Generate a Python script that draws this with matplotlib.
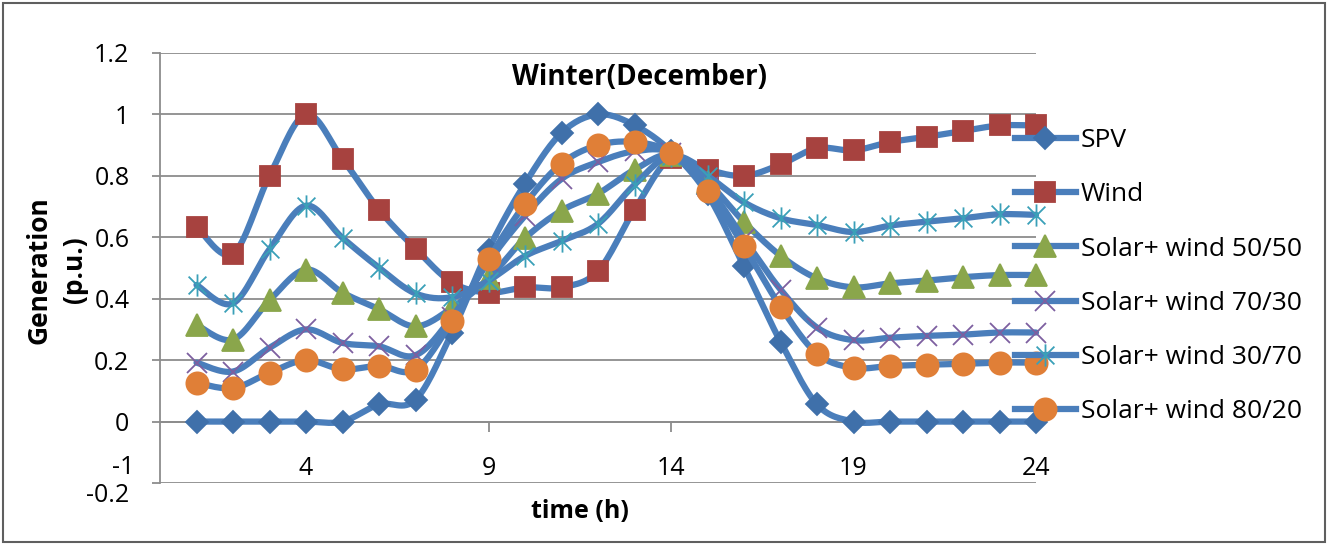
import numpy as np
import matplotlib
matplotlib.use("Agg")
import matplotlib.pyplot as plt
import matplotlib.transforms as mtransforms
from matplotlib.path import Path
from matplotlib.patches import Rectangle

plt.rcParams['font.family'] = ['Open Sans', 'DejaVu Sans']

# hourly generation, winter (December), per unit
hours = list(range(1, 25))
spv = [0, 0, 0, 0, 0, 0.056, 0.071, 0.29, 0.56, 0.775, 0.94, 1.0,
       0.965, 0.88, 0.74, 0.505, 0.26, 0.056, 0, 0, 0, 0, 0, 0]
wind = [0.635, 0.546, 0.80, 1.0, 0.855, 0.69, 0.563, 0.453, 0.42, 0.437, 0.437, 0.49,
        0.69, 0.858, 0.82, 0.80, 0.837, 0.89, 0.883, 0.91, 0.927, 0.946, 0.964, 0.964]
mix_50_50 = [0.315, 0.267, 0.395, 0.495, 0.42, 0.366, 0.31, 0.37, 0.466, 0.597, 0.687, 0.742,
             0.82, 0.868, 0.78, 0.65, 0.54, 0.466, 0.437, 0.45, 0.459, 0.47, 0.477, 0.477]
mix_70_30 = [0.192, 0.163, 0.24, 0.30, 0.256, 0.245, 0.216, 0.34, 0.52, 0.67, 0.79, 0.845,
             0.88, 0.875, 0.765, 0.595, 0.43, 0.306, 0.265, 0.273, 0.279, 0.283, 0.29, 0.29]
mix_30_70 = [0.445, 0.385, 0.561, 0.703, 0.598, 0.501, 0.417, 0.405, 0.459, 0.539, 0.588, 0.644,
             0.771, 0.865, 0.80, 0.714, 0.662, 0.64, 0.617, 0.638, 0.651, 0.662, 0.675, 0.673]
mix_80_20 = [0.126, 0.109, 0.159, 0.20, 0.17, 0.181, 0.169, 0.327, 0.529, 0.708, 0.84, 0.90,
             0.91, 0.875, 0.752, 0.57, 0.374, 0.221, 0.175, 0.181, 0.185, 0.188, 0.192, 0.192]

labels = ['SPV', 'Wind', 'Solar+ wind 50/50', 'Solar+ wind 70/30',
          'Solar+ wind 30/70', 'Solar+ wind 80/20']
x_ticks = [4, 9, 14, 19, 24]
y_ticks = [-0.2, 0, 0.2, 0.4, 0.6, 0.8, 1.0, 1.2]

LINE_BLUE = '#4A7EBB'
GRID_GRAY = '#8C8C8C'
FS = 18

# excel style asterisk: an x with a vertical bar through it
asterisk = Path([(-1, -1), (1, 1), (-1, 1), (1, -1), (0, -1.25), (0, 1.25)],
                [Path.MOVETO, Path.LINETO] * 3)

styles = [
    dict(marker='D', color='#3F70AA', ms=11, filled=True),
    dict(marker='s', color='#A7423F', ms=15, filled=True),
    dict(marker='^', color='#8AA64B', ms=16, filled=True),
    dict(marker='x', color='#7D5FA0', ms=15, filled=False),
    dict(marker=asterisk, color='#3AA0B8', ms=16, filled=False),
    dict(marker='o', color='#E07F37', ms=16, filled=True),
]


def smooth(x, y, steps=16):
    """Catmull-Rom curve through the points, like Excel's smoothed line."""
    pts = np.column_stack([x, y]).astype(float)
    pad = np.vstack([pts[0], pts, pts[-1]])
    t = np.linspace(0, 1, steps, endpoint=False)[:, None]
    out = []
    for i in range(len(pts) - 1):
        p0, p1, p2, p3 = pad[i], pad[i + 1], pad[i + 2], pad[i + 3]
        seg = 0.5 * (2 * p1 + (p2 - p0) * t
                     + (2 * p0 - 5 * p1 + 4 * p2 - p3) * t ** 2
                     + (3 * p1 - p0 - 3 * p2 + p3) * t ** 3)
        out.append(seg)
    out.append(pts[-1:])
    out = np.vstack(out)
    return out[:, 0], out[:, 1]


W, H = 1327, 544
fig = plt.figure(figsize=(W / 100, H / 100), dpi=100)
ax = fig.add_axes([160 / W, 1 - 483 / H, (1036 - 160) / W, (483 - 53) / H])

series = [spv, wind, mix_50_50, mix_70_30, mix_30_70, mix_80_20]
handles = []
for i, (vals, st) in enumerate(zip(series, styles)):
    sx, sy = smooth(hours, vals)
    ax.plot(sx, sy, color=LINE_BLUE, lw=4.5, solid_capstyle='round',
            zorder=3 + i * 0.1, clip_on=False)
    face = st['color'] if st['filled'] else 'none'
    ax.plot(hours, vals, ls='none', marker=st['marker'], ms=st['ms'],
            mfc=face, mec=st['color'], mew=1.3, zorder=3.05 + i * 0.1, clip_on=False)
    h, = ax.plot([], [], color=LINE_BLUE, lw=4.5, marker=st['marker'], ms=st['ms'],
                 mfc=face, mec=st['color'], mew=1.3)
    handles.append(h)

ax.set_xlim(0, 24)
ax.set_ylim(-0.2, 1.2)
ax.set_yticks(y_ticks)
ax.set_yticklabels(['%g' % v for v in y_ticks])
ax.set_xticks(x_ticks)
ax.set_xticklabels([str(v) for v in x_ticks])

ax.grid(axis='y', color=GRID_GRAY, lw=1.3)
ax.set_axisbelow(True)
for side in ['top', 'right']:
    ax.spines[side].set_visible(False)
ax.spines['bottom'].set_position(('data', 0))
for side in ['left', 'bottom']:
    ax.spines[side].set_color(GRID_GRAY)
    ax.spines[side].set_linewidth(1.3)

ax.tick_params(axis='y', direction='out', length=6, width=1.3, color=GRID_GRAY,
               labelsize=FS, pad=16)
ax.tick_params(axis='x', direction='out', length=7, width=1.3, color=GRID_GRAY,
               labelsize=FS, pad=18)

# excel drops the -0.2 label a little and also prints a stray "-1" category label
lbl = ax.get_yticklabels()[0]
lbl.set_transform(lbl.get_transform() + mtransforms.ScaledTranslation(0, -10 / 100, fig.dpi_scale_trans))
ax.text(-1, -0.15, '-1', ha='center', va='center', fontsize=FS, clip_on=False,
        transform=ax.transData)

fig.text(640 / W, 1 - 78 / H, 'Winter(December)', ha='center', va='center',
         fontsize=20, fontweight='bold')
fig.text(580 / W, 1 - 512 / H, 'time (h)', ha='center', va='center',
         fontsize=18, fontweight='bold')
fig.text(57 / W, 1 - 270 / H, 'Generation\n(p.u.)', ha='center', va='center',
         rotation=90, fontsize=19, fontweight='bold', linespacing=1.4)

fig.legend(handles, labels, loc='upper left', bbox_to_anchor=(1015 / W, 1 - 128 / H),
           frameon=False, fontsize=19, numpoints=1, handlelength=2.3,
           handletextpad=0.2, labelspacing=1.11, borderpad=0, borderaxespad=0)

fig.patches.append(Rectangle((3 / W, 2 / H), 1322 / W, 539 / H, transform=fig.transFigure,
                             fill=False, edgecolor='#5F5F5F', lw=1.5))

fig.savefig('out.png', dpi=100)
